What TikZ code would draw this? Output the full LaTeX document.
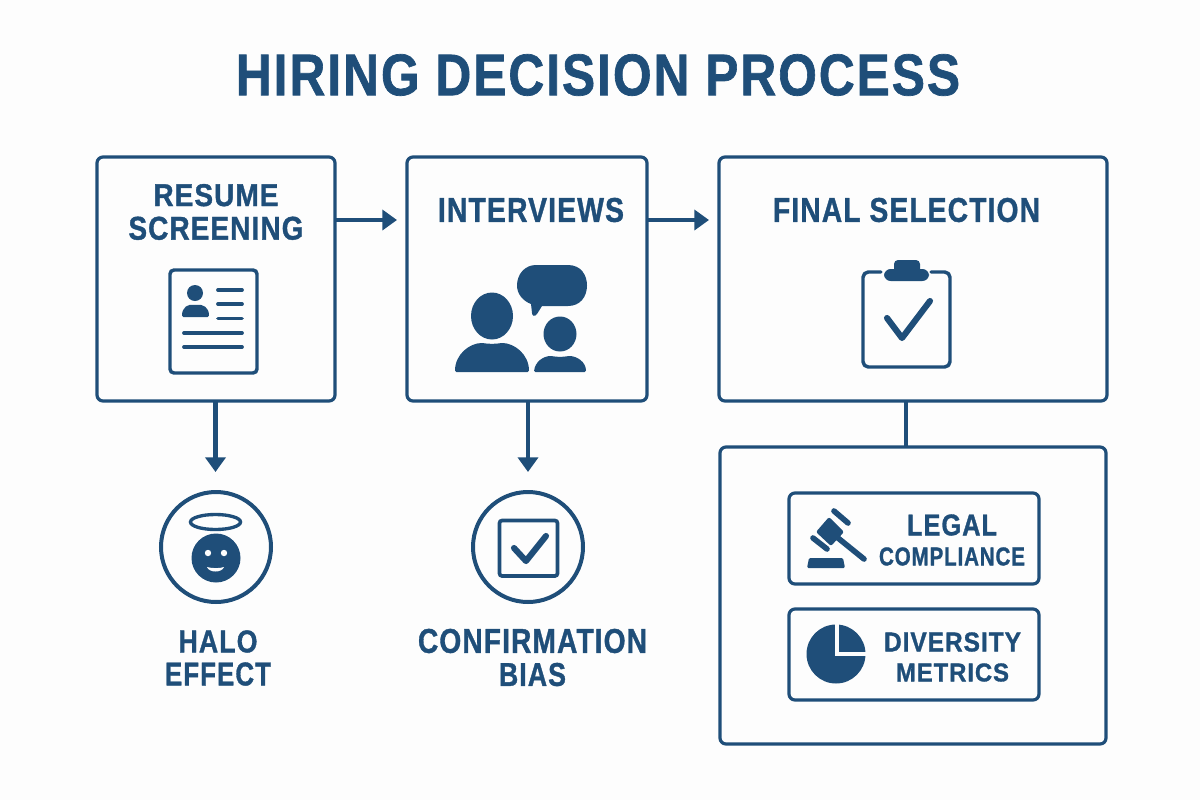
\documentclass[tikz,border=0pt]{standalone}
\usepackage{fontspec}
\setmainfont{Liberation Sans}[BoldFont={Liberation Sans Bold},BoldFeatures={LetterSpace=4,FakeBold=1.2}]
\usetikzlibrary{arrows.meta}
\definecolor{navy}{HTML}{1F4E79}
\definecolor{paper}{HTML}{FDFDFD}
\newcommand{\fitw}[3]{\resizebox{\dimexpr #1pt*3/4\relax}{\dimexpr #2pt*3/4\relax}{\bfseries #3}}
\tikzset{
  x=0.75pt,y=-0.75pt,
  panel/.style={draw=navy,line width=2.4pt,rounded corners=4.5pt,fill=paper,inner sep=0pt,outer sep=0pt},
  ring/.style={draw=navy,line width=3pt,circle,minimum size=82.5pt,inner sep=0pt,outer sep=0pt},
  txt/.style={text=navy,inner sep=0pt,outer sep=0pt,align=center,font=\fontsize{10}{12}\selectfont},
  flow/.style={draw=navy,line width=3.6pt,-{Triangle[length=11pt,width=15pt]}},
  link/.style={draw=navy,line width=3.3pt},
  roundline/.style={draw=navy,line width=2.6pt,line cap=round,line join=round},
  thinline/.style={draw=navy,line width=2.8pt,line cap=round},
  tickline/.style={draw=navy,line width=4.6pt,line cap=round,line join=round},
  bar/.style={draw=navy,line width=4.2pt,line cap=round},
}
\begin{document}
\begin{tikzpicture}
\useasboundingbox (0,0) rectangle (1200,800);
\fill[paper] (0,0) rectangle (1200,800);
% title
\node[txt] (title) at (598,75) {\fitw{724}{41}{HIRING DECISION PROCESS}};
% panels
\node[panel,minimum width=178.5pt,minimum height=183pt] (resume) at (216,279) {};
\node[panel,minimum width=180pt,minimum height=183pt] (interviews) at (527,279) {};
\node[panel,minimum width=291pt,minimum height=183pt] (final) at (913,279) {};
\node[panel,minimum width=289.5pt,minimum height=222.75pt] (checks) at (913,595.5) {};
\node[panel,minimum width=187.5pt,minimum height=68.25pt] (legalbox) at (914,538.5) {};
\node[panel,minimum width=187.5pt,minimum height=68.25pt] (divbox) at (914,654.5) {};
\node[ring] (halo) at (216,547) {};
\node[ring] (confirm) at (528,547) {};
% panel texts
\node[txt,font=\fontsize{10}{25.2pt}\selectfont] (resumetxt) at (216,212) {\fitw{125}{22}{RESUME}\\\fitw{175}{23}{SCREENING}};
\node[txt] (intertxt) at (531,210) {\fitw{186}{24}{INTERVIEWS}};
\node[txt] (finaltxt) at (906.5,210) {\fitw{267}{24}{FINAL SELECTION}};
\node[txt,font=\fontsize{10}{24.8pt}\selectfont] (halotxt) at (218,658) {\fitw{79}{22}{HALO}\\\fitw{106}{23}{EFFECT}};
\node[txt,font=\fontsize{10}{24.8pt}\selectfont] (conftxt) at (532.5,657.5) {\fitw{229}{24}{CONFIRMATION}\\\fitw{67}{23}{BIAS}};
\node[txt,font=\fontsize{10}{22.5pt}\selectfont] (legaltxt) at (952,540) {\fitw{90}{21}{LEGAL}\\\fitw{146}{18}{COMPLIANCE}};
\node[txt,font=\fontsize{10}{22.5pt}\selectfont] (divtxt) at (952.5,657) {\fitw{137}{19}{DIVERSITY}\\\fitw{113}{18}{METRICS}};
% connectors
\coordinate (a1) at (397,220);
\coordinate (a2) at (709,220);
\coordinate (d1) at (215.5,472);
\coordinate (d2) at (528,472);
\coordinate (j) at (906,424);
\draw[flow] (resume.east |- a1) -- (a1);
\draw[flow] (interviews.east |- a2) -- (a2);
\draw[flow] (resume.south -| d1) -- (d1);
\draw[flow] (interviews.south -| d2) -- (d2);
\draw[link] (final.south -| j) -- (checks.north -| j);
% resume icon
\draw[draw=navy,line width=2.6pt,rounded corners=3pt] (170,270) rectangle (257,373);
\fill[navy] (195,293) circle[radius=8];
\fill[navy,rounded corners=1pt] (182,317) .. controls (182,307) and (188,304) .. (195,305) .. controls (203,304) and (209,307) .. (209,317) -- cycle;
\foreach \yy in {290,304,318.5} \draw[thinline] (218,\yy) -- (242,\yy);
\foreach \yy in {333,347} \draw[thinline] (184,\yy) -- (242,\yy);
% interview icon
\fill[navy] (536,265) -- (568,265) .. controls (581,265) and (587,275) .. (587,285.5) .. controls (587,297) and (580,306) .. (568,306) -- (542,306) -- (537,314) .. controls (535,317) and (532,316) .. (532,313) -- (531,304) .. controls (523,301) and (517,294) .. (517,285.5) .. controls (517,274) and (525,265) .. (536,265) -- cycle;
\fill[navy] (492,316) ellipse[x radius=21,y radius=23.5];
\fill[navy,rounded corners=1pt] (455,372) .. controls (455,354) and (470,343) .. (483,343) .. controls (488,344) and (496,344) .. (501,343) .. controls (514,343) and (529,354) .. (529,372) -- cycle;
\fill[navy] (560,334) ellipse[x radius=16.5,y radius=17.5];
\fill[navy,rounded corners=1pt] (534,372) .. controls (535,362) and (543,356) .. (552,356) .. controls (556,357) and (564,357) .. (568,356) .. controls (577,356) and (586,362) .. (586,372) -- cycle;
% clipboard icon
\draw[roundline,rounded corners=4pt] (881,272) -- (863,272) -- (863,367) -- (950,367) -- (950,272) -- (931,272);
\fill[navy,rounded corners=3pt] (894,260) rectangle (920,274);
\fill[navy,rounded corners=5pt] (884,269) rectangle (929,281);
\draw[tickline] (887,318) -- (902,338) -- (930,301);
% halo icon
\draw[draw=navy,line width=2.5pt] (215.5,522) ellipse[x radius=25,y radius=7.5];
\fill[navy] (216,558) circle[radius=24.5];
\fill[paper] (208,553) circle[radius=3.2] (224,553) circle[radius=3.2];
\fill[paper] (207,567) .. controls (212,568.5) and (220,568.5) .. (224,567) .. controls (222,573) and (209,573) .. (207,567) -- cycle;
% checkbox icon
\draw[draw=navy,line width=2.8pt,rounded corners=2pt] (499.5,520.5) rectangle (557.5,576);
\draw[tickline] (514,548) -- (526,561) -- (546,536);
% gavel icon
\fill[navy,rounded corners=1.5pt] (829,517) -- (844,532) -- (831,546) -- (816,532) -- cycle;
\draw[bar] (838,538) -- (864,559);
\draw[bar] (834,511) -- (848,523);
\draw[bar] (813,538) -- (827,549);
\fill[navy,rounded corners=1pt] (807,568) -- (809,558) -- (843,558) -- (845,568) -- cycle;
% pie icon
\fill[navy] (836,654) circle[radius=29.5];
\draw[draw=paper,line width=3pt] (837,622) -- (837,653.5) -- (868,653.5);
\end{tikzpicture}
\end{document}
